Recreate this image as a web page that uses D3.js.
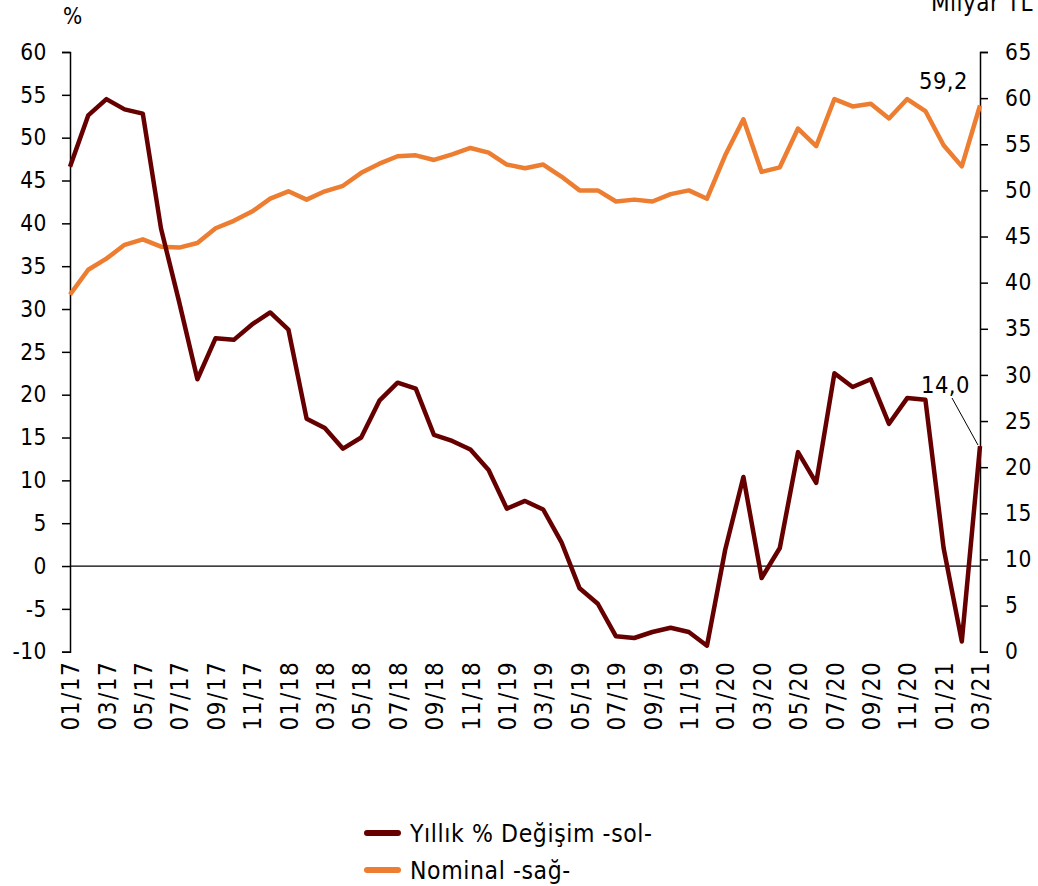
<!DOCTYPE html>
<html>
<head>
<meta charset="utf-8">
<script src="https://cdn.jsdelivr.net/npm/d3@7"></script>
<style>
  html, body { margin: 0; padding: 0; background: #fff; }
  svg { display: block; font-family: "DejaVu Sans Condensed", "DejaVu Sans", sans-serif; }
</style>
</head>
<body>
<svg id="chart" width="1038" height="886"></svg>
<script>
// ---- Data ----
const months = ["01/17","02/17","03/17","04/17","05/17","06/17","07/17","08/17","09/17","10/17","11/17","12/17",
  "01/18","02/18","03/18","04/18","05/18","06/18","07/18","08/18","09/18","10/18","11/18","12/18",
  "01/19","02/19","03/19","04/19","05/19","06/19","07/19","08/19","09/19","10/19","11/19","12/19",
  "01/20","02/20","03/20","04/20","05/20","06/20","07/20","08/20","09/20","10/20","11/20","12/20",
  "01/21","02/21","03/21"];
const yillikDegisim = [46.6,52.6,54.5,53.3,52.8,39.4,30.8,21.8,26.6,26.4,28.2,29.6,
  27.6,17.2,16.1,13.7,15.0,19.3,21.4,20.7,15.3,14.6,13.6,11.2,
  6.7,7.6,6.6,2.8,-2.6,-4.4,-8.2,-8.4,-7.7,-7.2,-7.7,-9.3,
  1.9,10.4,-1.4,2.1,13.3,9.7,22.5,20.9,21.8,16.6,19.6,19.4,
  2.1,-8.8,14.0];
const nominal = [38.7,41.4,42.6,44.1,44.7,43.9,43.8,44.3,45.9,46.7,47.7,49.1,
  49.9,49.0,49.9,50.5,51.9,52.9,53.7,53.8,53.3,53.9,54.6,54.1,
  52.8,52.4,52.8,51.5,50.0,50.0,48.8,49.0,48.8,49.6,50.0,49.1,
  53.8,57.7,52.0,52.5,56.7,54.8,59.9,59.1,59.4,57.8,59.9,58.6,
  54.9,52.6,59.2];
const leftTicks = [-10,-5,0,5,10,15,20,25,30,35,40,45,50,55,60];
const rightTicks = [0,5,10,15,20,25,30,35,40,45,50,55,60,65];
const xTickLabels = months.filter((d, i) => i % 2 === 0);
const seriesNames = ["Yıllık % Değişim -sol-", "Nominal -sağ-"];
const seriesColors = ["#660000", "#ED7D31"];

// ---- Layout ----
const svg = d3.select("#chart");
const L = 70, R = 980, T = 52, B = 651.7;
const fs = 22.5;
const FF = "DejaVu Sans Condensed, DejaVu Sans, sans-serif";

const x = d3.scalePoint().domain(months).range([L, R]);
const yL = d3.scaleLinear().domain([-10, 60]).range([B, T]);
const yR = d3.scaleLinear().domain([0, 65]).range([B, T]);

// zero line
svg.append("line")
  .attr("x1", L).attr("x2", R)
  .attr("y1", yL(0)).attr("y2", yL(0))
  .attr("stroke", "#000").attr("stroke-width", 1.2);

// left axis
const gL = svg.append("g").attr("transform", `translate(${L},0)`)
  .call(d3.axisLeft(yL).tickValues(leftTicks).tickSize(8).tickPadding(15).tickFormat(d => String(d)));
gL.select(".domain").attr("stroke", "#000").attr("stroke-width", 1.5);
gL.selectAll(".tick line").attr("stroke", "#000").attr("stroke-width", 1.5);
gL.selectAll(".tick text").attr("font-size", fs).attr("fill", "#000")
  .attr("font-family", FF).attr("letter-spacing", "0.5px");

// right axis
const gR = svg.append("g").attr("transform", `translate(${R},0)`)
  .call(d3.axisRight(yR).tickValues(rightTicks).tickSize(8).tickPadding(17).tickFormat(d => String(d)));
gR.select(".domain").attr("stroke", "#000").attr("stroke-width", 1.5);
gR.selectAll(".tick line").attr("stroke", "#000").attr("stroke-width", 1.5);
gR.selectAll(".tick text").attr("font-size", fs).attr("fill", "#000")
  .attr("font-family", FF).attr("letter-spacing", "0.5px");

// x axis labels (rotated)
const gX = svg.append("g").attr("transform", `translate(0,${B})`)
  .call(d3.axisBottom(x).tickValues(xTickLabels).tickSize(0).tickPadding(0));
gX.select(".domain").remove();
gX.selectAll(".tick text")
  .attr("font-size", 24)
  .attr("fill", "#000")
  .attr("font-family", FF)
  .attr("letter-spacing", "1.5px")
  .attr("text-anchor", "end")
  .attr("dy", "0.36em")
  .attr("transform", "translate(0,9) rotate(-90)")
  .attr("y", 0).attr("x", 0);

// axis unit labels
svg.append("text").attr("x", 63).attr("y", 24).attr("font-size", fs).text("%");
svg.append("text").attr("x", 1033).attr("y", 11).attr("text-anchor", "end")
  .attr("font-size", 24).attr("letter-spacing", "0.5px").text("Milyar TL");

// lines
const lineL = d3.line().x((d, i) => x(months[i])).y(d => yL(d));
const lineR = d3.line().x((d, i) => x(months[i])).y(d => yR(d));

svg.append("path").datum(nominal)
  .attr("d", lineR).attr("fill", "none")
  .attr("stroke", seriesColors[1]).attr("stroke-width", 4.5)
  .attr("stroke-linejoin", "round");

svg.append("path").datum(yillikDegisim)
  .attr("d", lineL).attr("fill", "none")
  .attr("stroke", seriesColors[0]).attr("stroke-width", 4.5)
  .attr("stroke-linejoin", "round");

// data labels
const last = months.length - 1;
svg.append("text")
  .attr("x", x(months[last]) - 12).attr("y", yR(nominal[last]) - 17)
  .attr("text-anchor", "end").attr("font-size", 23.5).attr("letter-spacing", "0.5px").text("59,2");

svg.append("line")
  .attr("x1", 952).attr("y1", 398)
  .attr("x2", x(months[last]) - 2).attr("y2", yL(yillikDegisim[last]) - 1)
  .attr("stroke", "#000").attr("stroke-width", 1);
svg.append("text")
  .attr("x", 970).attr("y", 393)
  .attr("text-anchor", "end").attr("font-size", 23.5).attr("letter-spacing", "0.5px").text("14,0");

// legend
const leg = svg.append("g");
seriesNames.forEach((name, i) => {
  const yy = 833 + i * 37;
  leg.append("line").attr("x1", 367).attr("x2", 398).attr("y1", yy).attr("y2", yy)
    .attr("stroke", seriesColors[i]).attr("stroke-width", 6).attr("stroke-linecap", "round");
  leg.append("text").attr("x", 410).attr("y", yy + 9).attr("font-size", 24.5)
    .attr("letter-spacing", "0.6px").text(name);
});
</script>
</body>
</html>
